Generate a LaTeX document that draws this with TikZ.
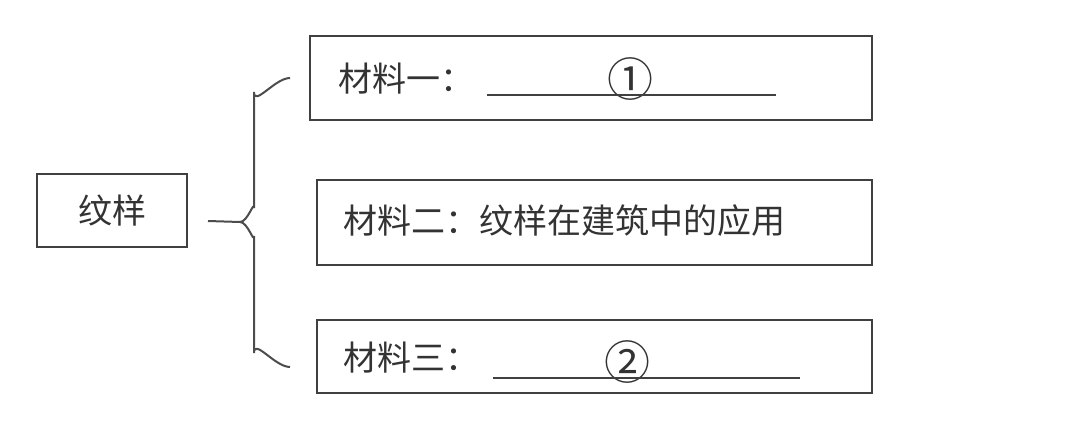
\documentclass[tikz,border=0pt]{standalone}
\usepackage{fontspec}
\newfontfamily\cjk{Noto Sans CJK SC}
\usetikzlibrary{positioning}

\tikzset{
  frame/.style={draw=black!75, line width=2.2pt, rectangle, inner sep=0pt},
  txt/.style={font=\cjk\fontsize{34}{40}\selectfont, text=black!80, inner sep=0pt},
  numtxt/.style={font=\cjk\fontsize{46}{50}\selectfont, text=black!80, inner sep=0pt},
  blank/.style={draw=black!75, line width=1.8pt},
  brace/.style={draw=black!70, line width=2pt}
}

\begin{document}
\begin{tikzpicture}[x=1pt, y=-1pt]
  \useasboundingbox (0,0) rectangle (1080,439);
  % boxes
  \node [frame, minimum width=150pt, minimum height=73pt] (topic) at (112,210.5) {};
  \node [txt] (topictext) at (topic.center) {纹样};
  \node [frame, minimum width=562pt, minimum height=84pt] (mat1) at (591,78) {};
  \node [frame, minimum width=555pt, minimum height=85pt] (mat2) at (594.5,222.5) {};
  \node [frame, minimum width=555pt, minimum height=73pt] (mat3) at (594.5,356.5) {};
  % texts
  \node [txt, anchor=west] (mat1text) at (338,79) {材料一：};
  \node [txt, anchor=west] (mat2text) at (343,221) {材料二：纹样在建筑中的应用};
  \node [txt, anchor=west] (mat3text) at (343,358) {材料三：};
  \node [numtxt] (num1) at (630,79) {①};
  \node [numtxt] (num2) at (627,362) {②};
  % blanks
  \coordinate (b1s) at (487,95);
  \coordinate (b1e) at (776,95);
  \coordinate (b3s) at (493,378);
  \coordinate (b3e) at (800,378);
  \draw [blank] (b1s) -- (b1e);
  \draw [blank] (b3s) -- (b3e);
  % brace
  \coordinate (stem) at (208,221);
  \coordinate (tip) at (240,222);
  \coordinate (armtop) at (290,78);
  \coordinate (armbot) at (290,367);
  \draw [brace] (armtop) to[out=180, in=-90] (254,92) -- (254,208)
    to[out=90, in=0] (tip) to[out=0, in=-90] (254,236) -- (254,353)
    to[out=90, in=180] (armbot);
  \draw [brace] (stem) -- (tip);
\end{tikzpicture}
\end{document}
